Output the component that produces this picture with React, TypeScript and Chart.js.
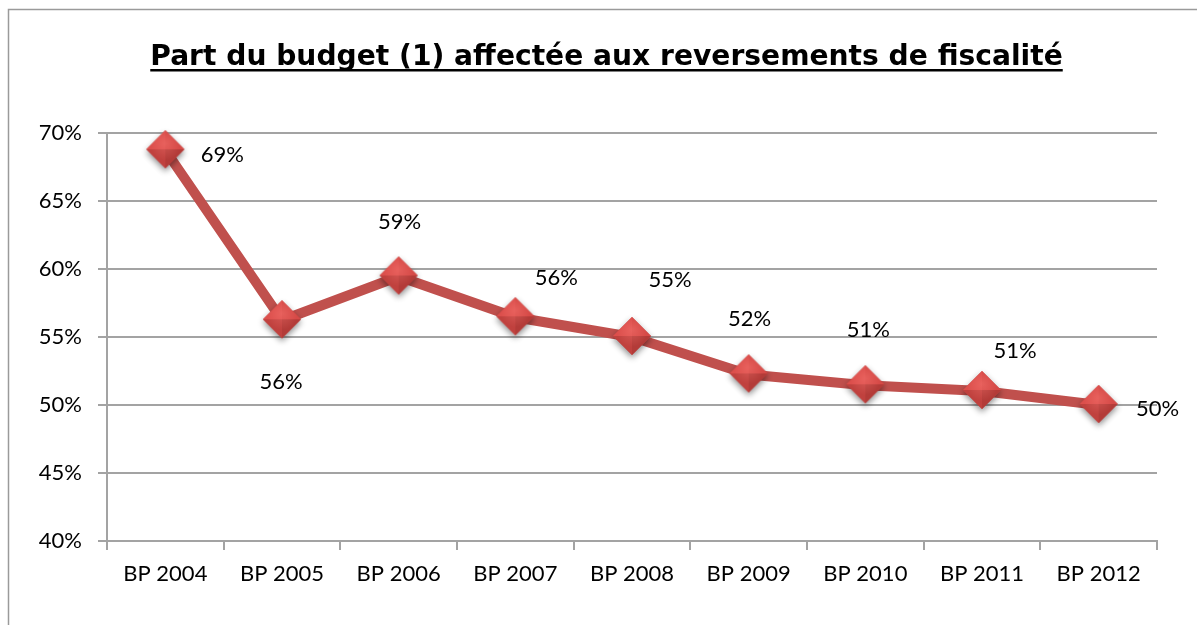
import React, { useEffect, useRef } from "react";
import { Chart, registerables } from "chart.js";

Chart.register(...registerables);

const chartTitle = "Part du budget (1) affectée aux reversements de fiscalité";
const categories = ["BP 2004", "BP 2005", "BP 2006", "BP 2007", "BP 2008", "BP 2009", "BP 2010", "BP 2011", "BP 2012"];
const shareValues = [68.73, 56.23, 59.45, 56.45, 55.0, 52.25, 51.45, 51.03, 50.0];
const valueLabels = ["69%", "56%", "59%", "56%", "55%", "52%", "51%", "51%", "50%"];
const yMin = 40;
const yMax = 70;
const yStep = 5;

// label placement offsets (style, not data): [dx, dy] from each point
const labelOffsets: [number, number][] = [
  [57, 5], [-1, 62], [1, -55], [41, -39], [38, -57], [1, -55], [3, -55], [33, -40], [59, 4],
];

const GRID = "#a3a3a3";
const LINE_RED = "#c0504d";
const TEXT_FONT = "Lato, 'Liberation Sans', sans-serif";
const TEXT_SIZE = 22;

function makeDiamond(): HTMLCanvasElement {
  const s = 56;
  const c = document.createElement("canvas");
  c.width = s;
  c.height = s;
  const ctx = c.getContext("2d")!;
  const cx = s / 2, cy = s / 2 - 1, r = 19;
  const T: [number, number] = [cx, cy - r];
  const R: [number, number] = [cx + r, cy];
  const B: [number, number] = [cx, cy + r];
  const L: [number, number] = [cx - r, cy];
  const path = () => {
    ctx.beginPath();
    ctx.moveTo(T[0], T[1]);
    ctx.lineTo(R[0], R[1]);
    ctx.lineTo(B[0], B[1]);
    ctx.lineTo(L[0], L[1]);
    ctx.closePath();
  };
  ctx.save();
  ctx.shadowColor = "rgba(0,0,0,0.45)";
  ctx.shadowBlur = 6;
  ctx.shadowOffsetY = 3;
  path();
  ctx.fillStyle = "#c84542";
  ctx.fill();
  ctx.restore();
  const facet = (a: [number, number], b: [number, number], col: string) => {
    ctx.beginPath();
    ctx.moveTo(cx, cy);
    ctx.lineTo(a[0], a[1]);
    ctx.lineTo(b[0], b[1]);
    ctx.closePath();
    ctx.fillStyle = col;
    ctx.fill();
  };
  facet(L, T, "#dc4f4c");
  facet(T, R, "#d64a47");
  facet(R, B, "#b33b38");
  facet(B, L, "#c0413e");
  const g = ctx.createRadialGradient(cx, cy - 6, 1, cx, cy - 4, 15);
  g.addColorStop(0, "rgba(255,130,125,0.35)");
  g.addColorStop(1, "rgba(255,130,125,0)");
  path();
  ctx.fillStyle = g;
  ctx.fill();
  return c;
}

const framePlugin = {
  id: "frameAndTitle",
  beforeDraw(chart: any) {
    const ctx = chart.ctx as CanvasRenderingContext2D;
    ctx.save();
    ctx.strokeStyle = "#9a9a9a";
    ctx.lineWidth = 1.5;
    ctx.beginPath();
    ctx.moveTo(8.5, chart.height);
    ctx.lineTo(8.5, 9.5);
    ctx.lineTo(chart.width, 9.5);
    ctx.stroke();
    const targetW = 913;
    let size = 28;
    ctx.font = `bold ${size}px 'Comic Sans MS', 'DejaVu Sans', sans-serif`;
    const w = ctx.measureText(chartTitle).width;
    size = size * targetW / w;
    ctx.font = `bold ${size}px 'Comic Sans MS', 'DejaVu Sans', sans-serif`;
    const tw = ctx.measureText(chartTitle).width;
    const cx = 606.5;
    ctx.fillStyle = "#000";
    ctx.textAlign = "left";
    ctx.textBaseline = "alphabetic";
    ctx.fillText(chartTitle, cx - tw / 2, 65);
    ctx.fillRect(cx - tw / 2, 69, tw, 2.5);
    ctx.restore();
  },
  afterDatasetsDraw(chart: any) {
    const ctx = chart.ctx as CanvasRenderingContext2D;
    const meta = chart.getDatasetMeta(0);
    ctx.save();
    ctx.font = `${TEXT_SIZE}px ${TEXT_FONT}`;
    ctx.fillStyle = "#000";
    ctx.textAlign = "center";
    ctx.textBaseline = "middle";
    meta.data.forEach((pt: any, i: number) => {
      const [dx, dy] = labelOffsets[i];
      ctx.fillText(valueLabels[i], pt.x + dx, pt.y + dy);
    });
    ctx.restore();
  },
};

export default function App() {
  const ref = useRef<HTMLCanvasElement>(null);
  useEffect(() => {
    if (!ref.current) return;
    const diamond = makeDiamond();
    const chart = new Chart(ref.current, {
      type: "line",
      data: {
        labels: categories,
        datasets: [
          {
            data: shareValues,
            borderColor: LINE_RED,
            borderWidth: 10,
            borderJoinStyle: "round",
            borderCapStyle: "round",
            pointStyle: diamond as any,
            pointRadius: 19,
            pointHoverRadius: 19,
            tension: 0,
            clip: false as any,
          },
        ],
      },
      options: {
        responsive: false,
        devicePixelRatio: 1,
        animation: false,
        layout: { padding: { top: 133, right: 40, left: 0, bottom: 0 } },
        plugins: { legend: { display: false }, title: { display: false }, tooltip: { enabled: false } },
        scales: {
          x: {
            type: "category",
            offset: true,
            grid: { offset: true, drawOnChartArea: false, drawTicks: true, tickLength: 9, color: GRID, lineWidth: 2 },
            border: { display: true, color: GRID, width: 2 },
            ticks: { color: "#000", font: { family: TEXT_FONT, size: TEXT_SIZE }, padding: 11, maxRotation: 0, autoSkip: false },
            afterFit: (s: any) => { s.height = 84; },
          },
          y: {
            min: yMin,
            max: yMax,
            grid: { color: GRID, lineWidth: 2, drawTicks: true, tickLength: 9 },
            border: { display: true, color: GRID, width: 2 },
            ticks: {
              stepSize: yStep,
              color: "#000",
              font: { family: TEXT_FONT, size: TEXT_SIZE },
              padding: 16,
              callback: (v: any) => `${v}%`,
            },
            afterFit: (s: any) => { s.width = 107; },
          },
        },
      },
      plugins: [framePlugin],
    });
    return () => chart.destroy();
  }, []);
  return (
    <div style={{ position: "absolute", left: 0, top: 0, width: 1197, height: 625, background: "#fff" }}>
      <canvas ref={ref} width={1197} height={625} />
    </div>
  );
}
